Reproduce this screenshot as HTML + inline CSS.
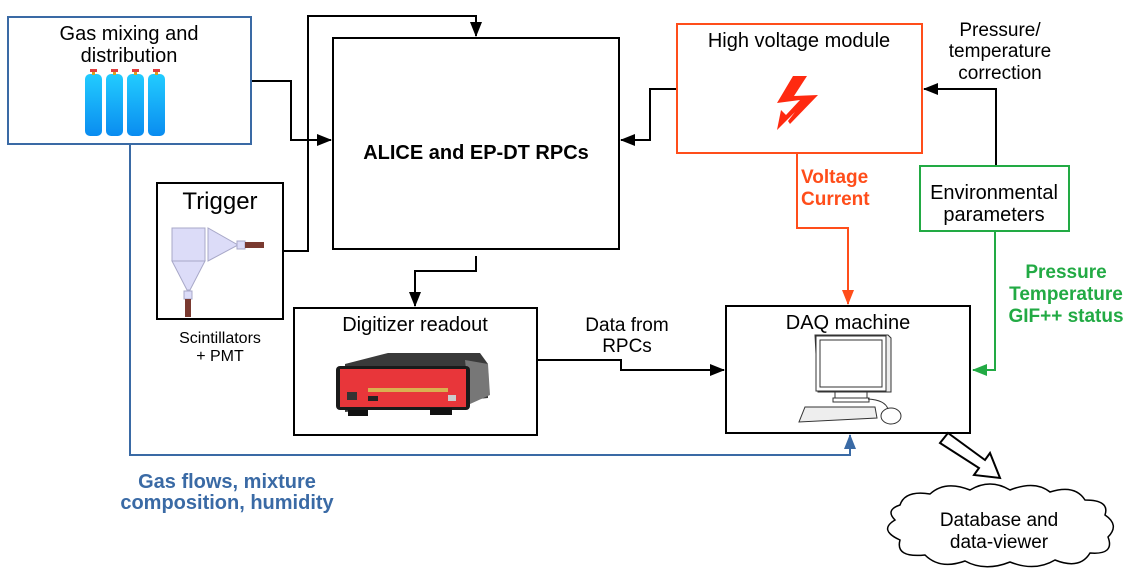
<!DOCTYPE html>
<html><head><meta charset="utf-8"><style>
html,body{margin:0;padding:0;background:#fff;}
svg{display:block;font-family:"Liberation Sans",sans-serif;}
</style></head><body>
<svg width="1130" height="570" viewBox="0 0 1130 570" xmlns="http://www.w3.org/2000/svg">
<defs>
<marker id="ak" markerWidth="15" markerHeight="12" refX="14" refY="6" orient="auto" markerUnits="userSpaceOnUse" viewBox="0 0 15 12"><path d="M0,0 L15,6 L0,12 z" fill="#000"/></marker>
<marker id="ao" markerWidth="15" markerHeight="12" refX="14" refY="6" orient="auto" markerUnits="userSpaceOnUse" viewBox="0 0 15 12"><path d="M0,0 L15,6 L0,12 z" fill="#ff4d1a"/></marker>
<marker id="ag" markerWidth="15" markerHeight="12" refX="14" refY="6" orient="auto" markerUnits="userSpaceOnUse" viewBox="0 0 15 12"><path d="M0,0 L15,6 L0,12 z" fill="#22aa44"/></marker>
<marker id="ab" markerWidth="15" markerHeight="12" refX="14" refY="6" orient="auto" markerUnits="userSpaceOnUse" viewBox="0 0 15 12"><path d="M0,0 L15,6 L0,12 z" fill="#3a6aa5"/></marker>
<linearGradient id="cyl" x1="0" y1="0" x2="0" y2="1"><stop offset="0" stop-color="#22ccff"/><stop offset="1" stop-color="#0a8cf0"/></linearGradient>
</defs>

<g fill="none" stroke-width="2">
<polyline points="251,81 291,81 291,140 331,140" stroke="#000" marker-end="url(#ak)"/>
<polyline points="283,251 308,251 308,16 476,16 476,36" stroke="#000" marker-end="url(#ak)"/>
<polyline points="677,89 650,89 650,140 621,140" stroke="#000" marker-end="url(#ak)"/>
<polyline points="996,166 996,89 924,89" stroke="#000" marker-end="url(#ak)"/>
<polyline points="476,256 476,271 415,271 415,306" stroke="#000" marker-end="url(#ak)"/>
<polyline points="537,360 621,360 621,370 724,370" stroke="#000" marker-end="url(#ak)"/>
<polyline points="797,153 797,228 848,228 848,304" stroke="#ff4d1a" marker-end="url(#ao)"/>
<polyline points="995,231 995,370 973,370" stroke="#22aa44" marker-end="url(#ag)"/>
<polyline points="130,144 130,455 850,455 850,435" stroke="#3a6aa5" marker-end="url(#ab)"/>
</g>

<rect x="8" y="17" width="243" height="127" fill="#fff" stroke="#3a6aa5" stroke-width="2"/>
<text x="129" y="40" font-size="20" text-anchor="middle">Gas mixing and</text>
<text x="129" y="62" font-size="20" text-anchor="middle">distribution</text>
<g fill="url(#cyl)">
<rect x="85" y="74" width="17" height="62" rx="5"/>
<rect x="106" y="74" width="17" height="62" rx="5"/>
<rect x="127" y="74" width="17" height="62" rx="5"/>
<rect x="148" y="74" width="17" height="62" rx="5"/>
</g>
<g fill="#e04040"><rect x="90" y="69" width="7" height="3"/><rect x="111" y="69" width="7" height="3"/><rect x="132" y="69" width="7" height="3"/><rect x="153" y="69" width="7" height="3"/></g>
<g fill="#d8a020"><rect x="92" y="72" width="3" height="3"/><rect x="113" y="72" width="3" height="3"/><rect x="134" y="72" width="3" height="3"/><rect x="155" y="72" width="3" height="3"/></g>

<rect x="157" y="183" width="126" height="136" fill="#fff" stroke="#000" stroke-width="2"/>
<text x="220" y="209" font-size="24" text-anchor="middle">Trigger</text>
<g fill="#dcdcf8" stroke="#a8a8c8" stroke-width="1">
<rect x="172" y="228" width="33" height="33"/>
<path d="M172,261 L205,261 L190,290 L187,290 Z"/>
<path d="M208,228 L208,261 L238,245 Z"/>
<rect x="237" y="241" width="8" height="8"/>
<rect x="184" y="291" width="8" height="8"/>
</g>
<rect x="245" y="242" width="19" height="6" fill="#7a3a30"/>
<rect x="185" y="299" width="6" height="18" fill="#7a3a30"/>
<text x="220" y="343" font-size="16" text-anchor="middle">Scintillators</text>
<text x="220" y="361" font-size="16" text-anchor="middle">+ PMT</text>

<rect x="333" y="38" width="286" height="211" fill="#fff" stroke="#000" stroke-width="2"/>
<text x="476" y="159" font-size="20" font-weight="bold" text-anchor="middle">ALICE and EP-DT RPCs</text>

<rect x="677" y="24" width="245" height="129" fill="#fff" stroke="#ff4d1a" stroke-width="2"/>
<text x="799" y="47" font-size="20" text-anchor="middle">High voltage module</text>
<path d="M793,76 L807,76 L794,96 L818,95 L790,124 L788,121 L795,112 L777,130 L781,110 L786,115 L800,100 L777,103 Z" fill="#ff2a10"/>

<text x="1000" y="36" font-size="19" text-anchor="middle">Pressure/</text>
<text x="1000" y="57" font-size="19" text-anchor="middle">temperature</text>
<text x="1000" y="79" font-size="19" text-anchor="middle">correction</text>

<rect x="920" y="166" width="149" height="65" fill="#fff" stroke="#22aa44" stroke-width="2"/>
<text x="994" y="199" font-size="20" text-anchor="middle">Environmental</text>
<text x="994" y="221" font-size="20" text-anchor="middle">parameters</text>

<text x="801" y="183" font-size="19" font-weight="bold" fill="#ff4d1a">Voltage</text>
<text x="801" y="205" font-size="19" font-weight="bold" fill="#ff4d1a">Current</text>
<text x="1066" y="278" font-size="19" font-weight="bold" fill="#22aa44" text-anchor="middle">Pressure</text>
<text x="1066" y="300" font-size="19" font-weight="bold" fill="#22aa44" text-anchor="middle">Temperature</text>
<text x="1066" y="322" font-size="19" font-weight="bold" fill="#22aa44" text-anchor="middle">GIF++ status</text>
<text x="227" y="488" font-size="20" font-weight="bold" fill="#3a6aa5" text-anchor="middle">Gas flows, mixture</text>
<text x="227" y="509" font-size="20" font-weight="bold" fill="#3a6aa5" text-anchor="middle">composition, humidity</text>
<text x="627" y="331" font-size="19" text-anchor="middle">Data from</text>
<text x="627" y="352" font-size="19" text-anchor="middle">RPCs</text>

<rect x="294" y="308" width="243" height="127" fill="#fff" stroke="#000" stroke-width="2"/>
<text x="415" y="331" font-size="20" text-anchor="middle">Digitizer readout</text>
<path d="M345,364 L388,353 L480,353 L488,364 L488,398 L345,412 Z" fill="#3a3a3a"/>
<path d="M465,360 L488,364 L490,395 L470,404 Z" fill="#777"/>
<rect x="336" y="366" width="134" height="44" rx="4" fill="#1a1a1a"/>
<rect x="340" y="369" width="126" height="38" fill="#e8363a"/>
<g fill="#d9b050"><rect x="368" y="388" width="80" height="4"/></g>
<rect x="347" y="392" width="10" height="8" fill="#333"/>
<rect x="368" y="396" width="10" height="5" fill="#222"/>
<rect x="448" y="395" width="8" height="6" fill="#ccc"/>
<rect x="348" y="410" width="20" height="6" fill="#111"/>
<rect x="430" y="408" width="22" height="7" fill="#111"/>

<rect x="726" y="306" width="244" height="127" fill="#fff" stroke="#000" stroke-width="2"/>
<text x="848" y="329" font-size="20" text-anchor="middle">DAQ machine</text>
<g fill="#fff" stroke="#333" stroke-width="1">
<path d="M815,335 L888,335 L891,338 L891,392 L818,392 Z" fill="#eee"/>
<rect x="816" y="336" width="70" height="55"/>
<rect x="820" y="340" width="62" height="47"/>
<rect x="835" y="392" width="32" height="6"/>
<rect x="833" y="398" width="36" height="4"/>
<path d="M805,407 L875,407 L877,418 L799,422 Z" fill="#eee"/>
<ellipse cx="891" cy="416" rx="10" ry="8"/>
<path d="M868,399 Q885,400 888,409" fill="none"/>
</g>

<path d="M940,443 L948,433 L985,460 L990,453 L1000,478 L974,475 L979,468 Z" fill="#fff" stroke="#000" stroke-width="2"/>

<path d="M900,505 Q905,490 930,494 Q945,480 970,490 Q990,478 1010,490 Q1035,480 1050,492 Q1075,484 1085,500 Q1110,500 1105,515 Q1120,525 1108,537 Q1115,555 1090,553 Q1080,570 1055,560 Q1035,572 1010,562 Q985,572 965,561 Q940,570 925,555 Q895,558 900,540 Q878,530 895,520 Q885,510 900,505 Z" fill="#fff" stroke="#000" stroke-width="1.5"/>
<text x="999" y="526" font-size="19" text-anchor="middle">Database and</text>
<text x="999" y="548" font-size="19" text-anchor="middle">data-viewer</text>
</svg>
</body></html>
